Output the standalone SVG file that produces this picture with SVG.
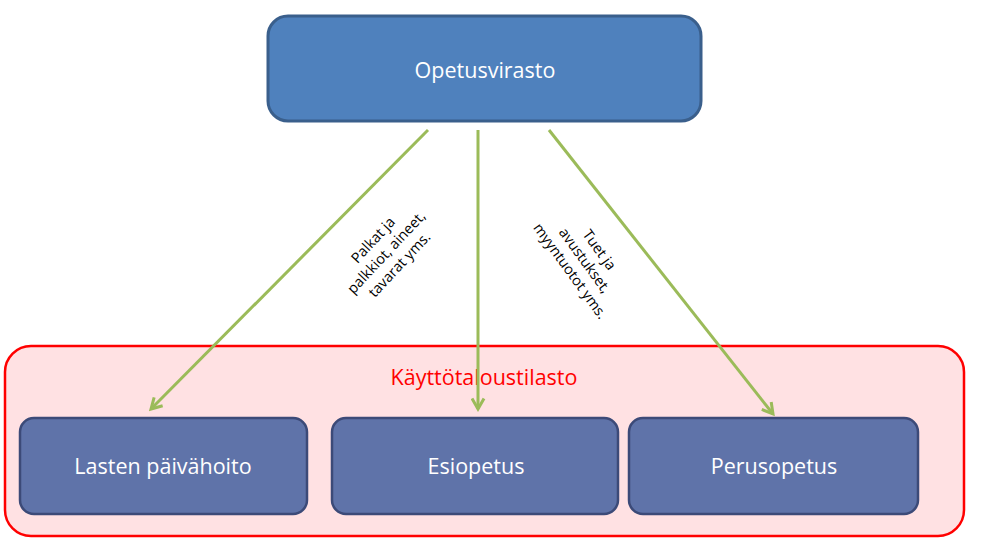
<svg xmlns="http://www.w3.org/2000/svg" width="1001" height="544" viewBox="0 0 1001 544">
<style>
.box{fill:#4F81BD;stroke:#3A5F8C;stroke-width:3}
.sub{fill:#5F73A9;stroke:#3C4A78;stroke-width:2.5}
.wt{font-family:"Open Sans","Liberation Sans",sans-serif;font-size:21.5px;fill:#fff;text-anchor:middle}
.lbl{font-family:"Open Sans","Liberation Sans",sans-serif;font-size:14.5px;fill:#000;text-anchor:middle}
.conn{stroke:#9BBB59;stroke-width:3;fill:none;marker-end:url(#ah)}
</style>
<defs>
<marker id="ah" viewBox="0 0 10 10" refX="8" refY="5" markerWidth="5" markerHeight="5" orient="auto" markerUnits="strokeWidth">
<path d="M1,1 L8,5 L1,9" fill="none" stroke="#9BBB59" stroke-width="2" stroke-linejoin="miter"/>
</marker>
</defs>
<rect width="1001" height="544" fill="#fff"/>
<g id="kayttotalous">
<rect x="5" y="346" width="959" height="190" rx="26" fill="#FFE1E3" stroke="#FF0000" stroke-width="2.5"/>
<text x="484" y="385" font-family="'Open Sans','Liberation Sans',sans-serif" font-size="21.5" fill="#FF0000" text-anchor="middle">Käyttötaloustilasto</text>
</g>
<g id="opetusvirasto">
<rect class="box" x="268" y="16" width="433" height="105" rx="20"/>
<text class="wt" x="485" y="78">Opetusvirasto</text>
</g>
<g id="lasten">
<rect class="sub" x="20" y="418" width="287" height="96" rx="14"/>
<text class="wt" x="163" y="474">Lasten päivähoito</text>
</g>
<g id="esiopetus">
<rect class="sub" x="332" y="418" width="286" height="96" rx="14"/>
<text class="wt" x="476" y="474">Esiopetus</text>
</g>
<g id="perusopetus">
<rect class="sub" x="629" y="418" width="289" height="96" rx="14"/>
<text class="wt" x="774" y="474">Perusopetus</text>
</g>
<g id="connectors">
<line class="conn" x1="428" y1="130" x2="151" y2="409"/>
<line class="conn" x1="478" y1="130" x2="478" y2="409"/>
<line class="conn" x1="549" y1="130" x2="773" y2="414"/>
<text class="lbl" transform="translate(387,253) rotate(-47)"><tspan x="0" y="-14">Palkat ja</tspan><tspan x="0" y="4">palkkiot, aineet,</tspan><tspan x="0" y="22">tavarat yms.</tspan></text>
<text class="lbl" transform="translate(584,261) rotate(54)"><tspan x="0" y="-14">Tuet ja</tspan><tspan x="0" y="4">avustukset,</tspan><tspan x="0" y="22">myyntuotot yms.</tspan></text>
</g>
</svg>
